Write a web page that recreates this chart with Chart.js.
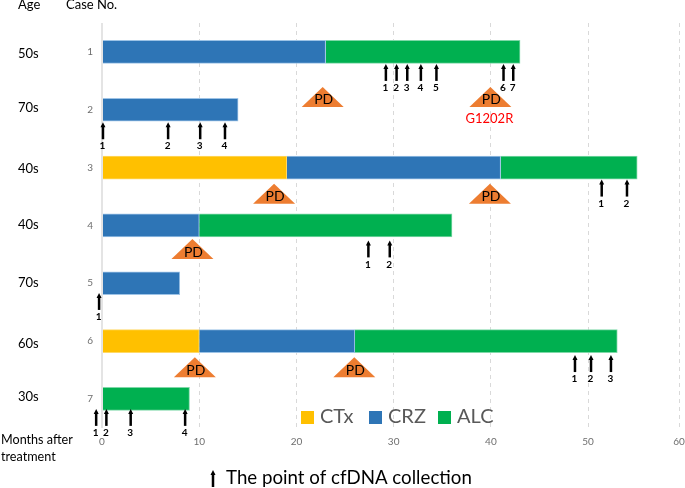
<!DOCTYPE html>
<html>
<head>
<meta charset="utf-8">
<style>
  html, body { margin: 0; padding: 0; background: #fff; }
  canvas { display: block; }
</style>
<script src="https://cdn.jsdelivr.net/npm/chart.js@4/dist/chart.umd.min.js"></script>
</head>
<body>
<canvas id="chart" width="685" height="488"></canvas>
<script>
// Data
const cases = ['1', '2', '3', '4', '5', '6', '7'];
const ages = ['50s', '70s', '40s', '40s', '70s', '60s', '30s'];
const seriesNames = ['CTx', 'CRZ', 'ALC'];
const ctxMonths = [null, null, 19, null, null, 10, null];
const crzMonths = [23, 14, 22, 10, 8, 16, null];
const alcMonths = [20, null, 14.05, 26, null, 27, 9];

// The last tick of the original axis sits closer than its scale would put it
const tickValues = [0, 10, 20, 30, 40, 50, 59.35];
const tickLabels = ['0', '10', '20', '30', '40', '50', '60'];

// cfDNA collection points, months per case
const collectionPoints = [
    [29.2, 30.3, 31.4, 32.8, 34.4, 41.3, 42.3],
    [0.1, 6.8, 10.1, 12.65],
    [51.4, 54],
    [27.4, 29.6],
    [-0.3],
    [48.65, 50.3, 52.35],
    [-0.6, 0.45, 2.95, 8.55]
];

// PD marks, months per case
const pdPoints = [[22.7, 39.95], [], [17.7, 39.9], [9.3], [], [9.55, 25.95], []];
const mutationLabel = 'G1202R';

// Layout and colours
const colors = ['#FFC000', '#2E75B6', '#00B050'];
const edgeColors = ['#FFD966', '#9DC3E6', '#7FD8A8'];
const arrowGap = [12, 12.5, 12, 15, 9.7, 14, 10];
const pdGap = [35, 0, 16.3, 13.7, 0, 16.3, 0];
const ageGap = [2, -1.5, 1, -1, 0, 3, -2];
const fontName = 'Lato, "Open Sans", sans-serif';

const drawArrow = (c, x, top, length) => {
    c.strokeStyle = '#000';
    c.fillStyle = '#000';
    c.lineWidth = 2.5;
    c.beginPath();
    c.moveTo(x, top + 3);
    c.lineTo(x, top + length);
    c.stroke();
    c.beginPath();
    c.moveTo(x, top);
    c.lineTo(x - 2.5, top + 5);
    c.lineTo(x + 2.5, top + 5);
    c.closePath();
    c.fill();
};

const drawText = (c, text, x, y, font, color, align) => {
    c.font = `${font} ${fontName}`;
    c.fillStyle = color;
    c.textAlign = align || 'left';
    c.textBaseline = 'middle';
    c.fillText(text, x, y);
};

// Arrows, PD triangles and the texts around the plot
const annotations = {
    id: 'annotations',
    afterDraw(chart) {
        const c = chart.ctx;
        const xScale = chart.scales.x;
        const yScale = chart.scales.y;
        c.save();

        collectionPoints.forEach((points, caseIndex) => {
            const top = yScale.getPixelForValue(caseIndex) + arrowGap[caseIndex];
            points.forEach((month, i) => {
                const x = xScale.getPixelForValue(month);
                drawArrow(c, x, top, 17);
                drawText(c, String(i + 1), x - 0.5, top + 24, 'bold 10px', '#000', 'center');
            });
        });

        pdPoints.forEach((points, caseIndex) => {
            const top = yScale.getPixelForValue(caseIndex) + pdGap[caseIndex];
            points.forEach(month => {
                const x = xScale.getPixelForValue(month);
                c.fillStyle = '#ED7D31';
                c.beginPath();
                c.moveTo(x, top);
                c.lineTo(x - 21, top + 20);
                c.lineTo(x + 21, top + 20);
                c.closePath();
                c.fill();
                drawText(c, 'PD', x + 1, top + 13, '14px', '#000', 'center');
            });
        });
        const mutationY = yScale.getPixelForValue(0) + pdGap[0] + 32;
        drawText(c, mutationLabel, xScale.getPixelForValue(pdPoints[0][1]) - 1, mutationY, '13px', '#FF0000', 'center');

        // Left hand columns
        drawText(c, 'Age', 18, 5, '13px', '#000');
        drawText(c, 'Case No.', 66, 5, '13px', '#000');
        ages.forEach((age, i) => {
            drawText(c, age, 18, yScale.getPixelForValue(i) + ageGap[i], '13px', '#000');
        });
        drawText(c, 'Months after', 1, 440, '12.6px', '#000');
        drawText(c, 'treatment', 1, 457, '12.6px', '#000');

        // Legend
        const legendX = [301, 369, 438];
        seriesNames.forEach((name, i) => {
            c.fillStyle = colors[i];
            c.fillRect(legendX[i], 411, 13, 13);
            drawText(c, name, legendX[i] + 19, 417, '20px', '#595959');
        });

        // Arrow key
        drawArrow(c, 213, 470, 17);
        drawText(c, 'The point of cfDNA collection', 226, 478, '18.7px', '#000');

        c.restore();
    }
};

const makeDataset = (index, values) => ({
    label: seriesNames[index],
    data: values,
    backgroundColor: colors[index],
    borderColor: edgeColors[index],
    borderWidth: 1,
    barThickness: 23
});

new Chart(document.getElementById('chart'), {
    type: 'bar',
    data: {
        labels: cases,
        datasets: [
            makeDataset(0, ctxMonths),
            makeDataset(1, crzMonths),
            makeDataset(2, alcMonths)
        ]
    },
    options: {
        indexAxis: 'y',
        responsive: false,
        animation: false,
        layout: { padding: { top: 23, right: 6, left: 0, bottom: 0 } },
        plugins: {
            legend: { display: false },
            tooltip: { enabled: false }
        },
        scales: {
            x: {
                stacked: true,
                min: 0,
                max: 59.35,
                afterBuildTicks: scale => {
                    scale.ticks = tickValues.map(value => ({ value }));
                },
                afterTickToLabelConversion: scale => {
                    scale.ticks.forEach((tick, i) => { tick.label = tickLabels[i]; });
                },
                afterFit: scale => {
                    scale.height = 60.2;
                    // keep the last label from pulling the plot area in
                    scale.paddingRight = 0;
                    scale.paddingLeft = 0;
                },
                grid: {
                    drawTicks: false,
                    color: ctx => ctx.index === 0 ? '#e4e4e4' : '#d9d9d9',
                    lineWidth: ctx => ctx.index === 0 ? 2 : 1
                },
                border: {
                    display: false,
                    dash: ctx => ctx.index === 0 ? [] : [4, 4]
                },
                ticks: {
                    padding: 8,
                    maxRotation: 0,
                    autoSkip: false,
                    color: '#6e6e6e',
                    font: { family: fontName, size: 10 }
                }
            },
            y: {
                stacked: true,
                afterFit: scale => { scale.width = 102; },
                grid: { display: false, drawTicks: false },
                border: { display: false },
                ticks: {
                    padding: 9,
                    color: '#6e6e6e',
                    font: { family: fontName, size: 10 }
                }
            }
        }
    },
    plugins: [annotations]
});
</script>
</body>
</html>
